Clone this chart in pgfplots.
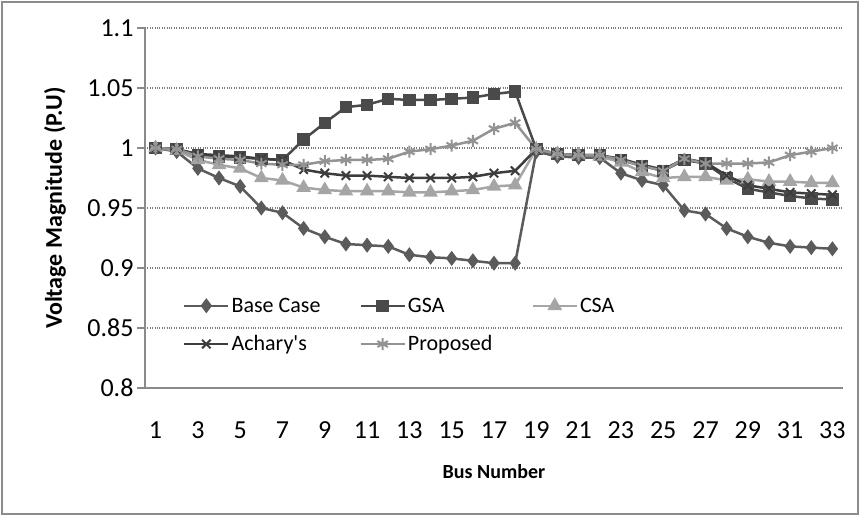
\documentclass[border=0pt]{standalone}
\usepackage{fontspec}
\setmainfont{Carlito}
\usepackage{pgfplots}
\usepackage{pgfplotstable}
\pgfplotsset{compat=1.18}

\definecolor{basec}{HTML}{5B5B5B}
\definecolor{gsac}{HTML}{4A4A4A}
\definecolor{csac}{HTML}{A5A5A5}
\definecolor{acharyc}{HTML}{3C3C3C}
\definecolor{propc}{HTML}{939393}
\definecolor{axisgray}{HTML}{8A8A8A}
\definecolor{gridgray}{HTML}{7A7A7A}
\definecolor{framegray}{HTML}{8C8C8C}

% bus voltage profiles (p.u.)
\pgfplotstableread{
bus base  gsa   csa   achary prop
1   1.000 1.000 1.000 1.000 1.000
2   0.997 0.999 0.998 0.999 0.999
3   0.983 0.994 0.990 0.995 0.993
4   0.975 0.993 0.986 0.994 0.991
5   0.968 0.992 0.983 0.993 0.990
6   0.950 0.991 0.975 0.991 0.987
7   0.946 0.990 0.973 0.990 0.986
8   0.933 1.007 0.967 0.982 0.986
9   0.926 1.021 0.965 0.979 0.989
10  0.920 1.034 0.964 0.977 0.990
11  0.919 1.036 0.964 0.977 0.990
12  0.918 1.041 0.964 0.976 0.991
13  0.911 1.040 0.963 0.975 0.997
14  0.909 1.040 0.963 0.975 0.999
15  0.908 1.041 0.964 0.975 1.002
16  0.906 1.042 0.965 0.976 1.006
17  0.904 1.045 0.968 0.979 1.016
18  0.904 1.047 0.969 0.981 1.021
19  0.997 0.999 0.999 0.999 0.999
20  0.993 0.995 0.995 0.995 0.995
21  0.992 0.994 0.994 0.994 0.994
22  0.992 0.994 0.993 0.994 0.994
23  0.979 0.990 0.988 0.991 0.990
24  0.973 0.985 0.980 0.986 0.985
25  0.969 0.981 0.975 0.982 0.981
26  0.948 0.990 0.976 0.991 0.991
27  0.945 0.987 0.976 0.988 0.987
28  0.933 0.975 0.973 0.977 0.987
29  0.926 0.966 0.974 0.969 0.987
30  0.921 0.963 0.972 0.966 0.988
31  0.918 0.960 0.972 0.963 0.994
32  0.917 0.958 0.971 0.962 0.997
33  0.916 0.957 0.971 0.961 1.000
}\voltages

\begin{document}
\begin{tikzpicture}
\useasboundingbox (0pt,0pt) rectangle (860pt,516pt);
\draw[framegray, line width=2pt] (2pt,2pt) rectangle (858pt,514pt);
\begin{axis}[
    at={(145pt,128pt)}, anchor=south west,
    scale only axis, width=698pt, height=360pt,
    xmin=0.5, xmax=33.5, ymin=0.8, ymax=1.1,
    xtick={1,3,...,33},
    ytick={0.8,0.85,0.9,0.95,1,1.05,1.1},
    yticklabels={0.8,0.85,0.9,0.95,1,1.05,1.1},
    axis x line*=bottom, axis y line*=left,
    axis line style={-, axisgray, line width=1.5pt},
    ymajorgrids,
    major grid style={dotted, gridgray, line width=1.2pt},
    tick align=outside, major tick length=8pt,
    xtick style={draw=none},
    ytick style={axisgray, line width=1.5pt},
    /pgf/number format/assume math mode=true,
    ticklabel style={font=\fontsize{26}{30}\selectfont},
    xticklabel style={yshift=-22pt},
    xlabel={\textbf{Bus Number}},
    ylabel={\textbf{Voltage Magnitude (P.U)}},
    xlabel style={font=\fontsize{20}{24}\selectfont,
        at={(axis description cs:0.5,-0.233)}, anchor=center},
    ylabel style={font=\fontsize{24}{28}\selectfont,
        at={(axis description cs:-0.129,0.5)}, anchor=center},
    legend columns=3,
    legend cell align=left,
    legend style={draw=none, fill=none,
        at={(axis description cs:0.05,0.262)}, anchor=north west,
        font=\fontsize{22}{26}\selectfont, row sep=18pt,
        /tikz/every even column/.append style={column sep=37pt}},
    legend image code/.code={%
        \draw[mark repeat=2, mark phase=2, #1]
            plot coordinates {(0pt,0pt) (22pt,0pt) (44pt,0pt)};},
    every axis plot/.append style={line width=2.5pt, mark options={solid}},
]
\addplot[basec, mark=diamond*, mark size=5.5pt] table[x=bus, y=base]{\voltages};
\addlegendentry{Base Case}
\addplot[gsac, mark=square*, mark size=5pt] table[x=bus, y=gsa]{\voltages};
\addlegendentry{GSA}
\addplot[csac, mark=triangle*, mark size=6pt] table[x=bus, y=csa]{\voltages};
\addlegendentry{CSA}
\addplot[acharyc, mark=x, mark size=6pt, mark options={line width=2pt}] table[x=bus, y=achary]{\voltages};
\addlegendentry{Achary\textquotesingle s}
\addplot[propc, mark=asterisk, mark size=6pt, mark options={line width=2pt}] table[x=bus, y=prop]{\voltages};
\addlegendentry{Proposed}
\end{axis}
\end{tikzpicture}
\end{document}
